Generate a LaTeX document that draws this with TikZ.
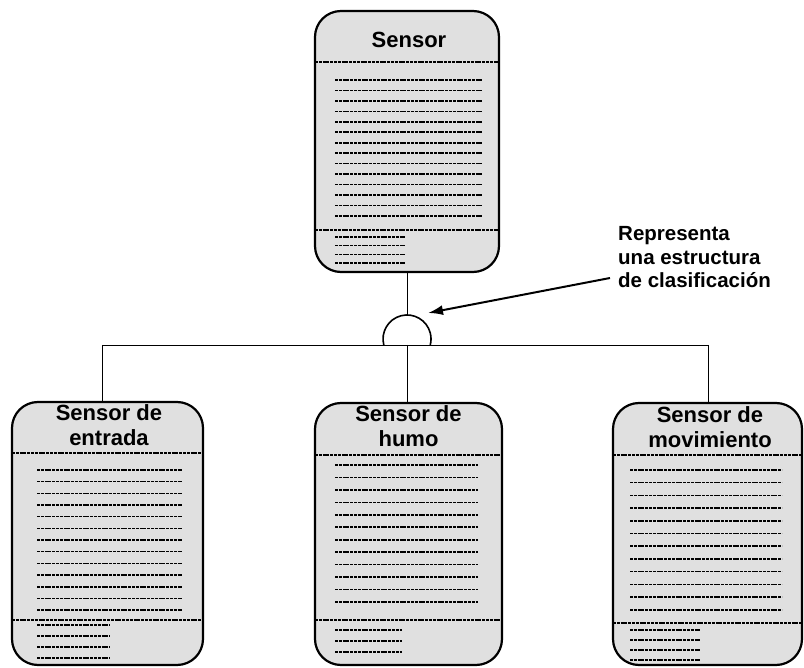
\documentclass[tikz,border=0pt]{standalone}
\usepackage{fontspec}
\setmainfont{Liberation Sans}
\usetikzlibrary{arrows.meta}

\tikzset{
  classbox/.style={draw=black, line width=2.2pt, fill=black!12,
    rounded corners=26pt, inner sep=0pt, rectangle},
  title/.style={font=\bfseries\fontsize{22}{25}\selectfont, inner sep=0pt, align=center},
  note/.style={font=\bfseries\fontsize{20.5}{23.5}\selectfont, inner sep=0pt, align=left},
  txtline/.style={line width=1.6pt, dash pattern=on 3pt off 0.8pt},
  sepline/.style={line width=1.5pt, dash pattern=on 3pt off 0.8pt},
  link/.style={line width=0.9pt},
  hub/.style={line width=1.6pt},
  pointer/.style={line width=2pt, -{Latex[length=15pt,width=10pt]}}
}

% body lines: left, right, first y, step, count
\newcommand\bodylines[5]{%
  \foreach \i in {1,...,#5}{%
    \draw[txtline] (#1,{#3+(\i-1)*#4}) -- (#2,{#3+(\i-1)*#4});}}

\begin{document}
\begin{tikzpicture}[x=1pt,y=-1pt]
\useasboundingbox (0,0) rectangle (804,668);

% ---- superclass ----
\node[classbox, minimum width=184pt, minimum height=261pt] (sensor) at (407,141.5) {};
\node[title, anchor=base] (tsensor) at (409,48) {Sensor};
\draw[sepline] (315,62) -- (499,62);
\draw[sepline] (315,230) -- (499,230);
\bodylines{335}{482}{80}{10.46}{14}
\bodylines{335}{405}{237}{8.7}{4}

% ---- subclasses ----
\node[classbox, minimum width=191pt, minimum height=263pt] (entrada) at (107.5,533.5) {};
\node[title, anchor=north] (tentrada) at (109,404) {Sensor de\\entrada};
\draw[sepline] (12,453) -- (203,453);
\draw[sepline] (12,620) -- (203,620);
\bodylines{37}{182}{470}{11.67}{13}
\bodylines{37}{110}{625}{11}{4}

\node[classbox, minimum width=187pt, minimum height=262pt] (humo) at (408.5,534) {};
\node[title, anchor=north] (thumo) at (408.5,405) {Sensor de\\humo};
\draw[sepline] (315,455) -- (502,455);
\draw[sepline] (315,620) -- (502,620);
\bodylines{335}{478}{465}{12.45}{12}
\bodylines{335}{402}{630}{11}{3}

\node[classbox, minimum width=189pt, minimum height=262pt] (movimiento) at (707.5,534) {};
\node[title, anchor=north] (tmovimiento) at (710,406) {Sensor de\\movimiento};
\draw[sepline] (613,455) -- (802,455);
\draw[sepline] (613,623) -- (802,623);
\bodylines{630}{782}{470}{12.7}{12}
\bodylines{630}{700}{630}{10}{4}

% ---- classification structure ----
\coordinate (hub) at (407,345);
\coordinate (hubtop) at (407,315);
\coordinate (jl) at (102,345);
\coordinate (jr) at (708,345);
\draw[link] (sensor.south) -- (hubtop);
\draw[hub] (hub) ++(-23.2pt,0pt) arc[start angle=194.5, end angle=-14.5, radius=24pt];
\draw[link] (jl) -- (jr);
\draw[link] (jl) -- (jl |- entrada.north);
\draw[link] (hub) -- (hub |- humo.north);
\draw[link] (jr) -- (jr |- movimiento.north);

% ---- annotation ----
\node[note, anchor=north west] (note) at (618,226.3) {Representa\\una estructura\\de clasificación};
\coordinate (tail) at (610,278);
\coordinate (tip) at (428,313);
\draw[pointer] (tail) -- (tip);
\end{tikzpicture}
\end{document}
